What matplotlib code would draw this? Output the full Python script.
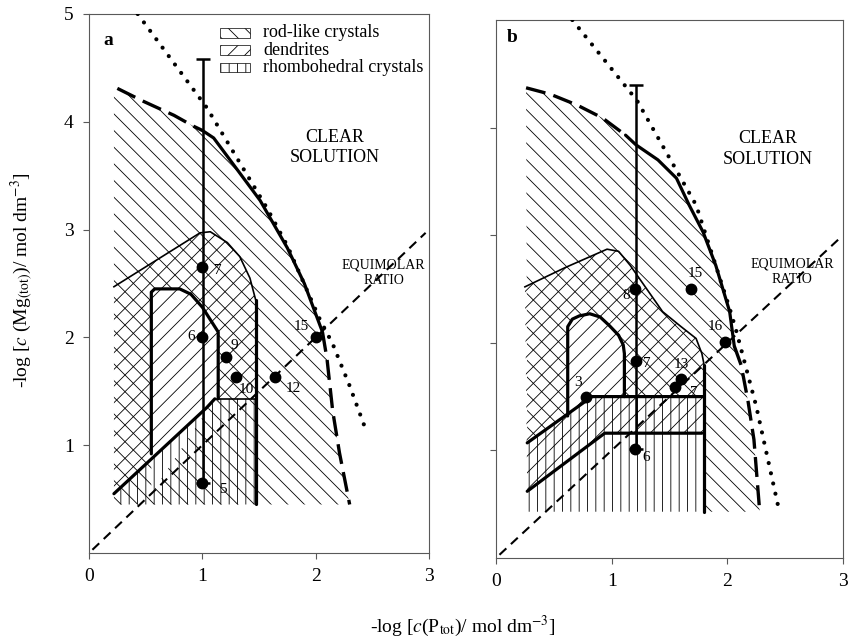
import matplotlib
matplotlib.use("Agg")
import matplotlib.pyplot as plt
from matplotlib.patches import Rectangle

plt.rcParams['font.family'] = ['Liberation Serif', 'DejaVu Serif']
plt.rcParams['mathtext.fontset'] = 'stix'
plt.rcParams['hatch.linewidth'] = 0.6

# ---------------- panel a ----------------
a_dot_x = [0.43, 1.04, 1.57, 1.75, 2.04, 2.15, 2.30, 2.44]
a_dot_y = [5.00, 4.13, 3.20, 2.85, 2.16, 1.94, 1.55, 1.15]

a_top_x = [0.25, 0.48, 0.75, 0.92, 1.00]
a_top_y = [4.31, 4.19, 4.06, 3.96, 3.92]
a_sol_x = [1.00, 1.10, 1.27, 1.51, 1.75, 1.90, 2.06]
a_sol_y = [3.92, 3.85, 3.61, 3.27, 2.83, 2.50, 2.05]
a_rgt_x = [2.06, 2.10, 2.15, 2.21, 2.30]
a_rgt_y = [2.05, 1.80, 1.32, 0.93, 0.45]

a_den_x = [0.22, 0.98, 1.07, 1.22, 1.33, 1.42, 1.47]
a_den_y = [2.47, 2.97, 2.98, 2.88, 2.75, 2.55, 2.35]
a_rho_x = [0.22, 1.04, 1.11, 1.47]
a_rho_y = [0.55, 1.35, 1.43, 1.43]
a_in_x = [0.55, 0.55, 0.58, 0.80, 0.90, 1.00, 1.14, 1.14]
a_in_y = [0.92, 2.42, 2.45, 2.45, 2.40, 2.28, 2.05, 1.43]
a_left = 0.22
a_bottom = 0.45

a_bar = [1.01, 0.65, 4.58]   # x, low, high

a_pt_x = [1.00, 1.00, 1.21, 1.30, 1.64, 2.00, 1.00]
a_pt_y = [2.65, 2.00, 1.82, 1.63, 1.63, 2.00, 0.65]
a_pt_lab = ['7', '6', '9', '10', '12', '15', '5']
a_lab_off = [(11, -2), (-8, 1), (6, 8), (7, -9), (13, -8), (-10, 8), (15, -5)]

# ---------------- panel b ----------------
b_dot_x = [0.66, 1.22, 1.73, 2.02, 2.08, 2.25, 2.45]
b_dot_y = [5.00, 4.25, 3.28, 2.32, 2.10, 1.41, 0.43]

b_top_x = [0.26, 0.47, 0.70, 0.92, 1.12]
b_top_y = [4.37, 4.31, 4.21, 4.09, 3.93]
b_sol_x = [1.12, 1.21, 1.40, 1.56, 1.67, 1.79, 1.90, 2.02, 2.06]
b_sol_y = [3.93, 3.84, 3.70, 3.53, 3.28, 3.03, 2.72, 2.29, 1.97]
b_rgt_x = [2.06, 2.12, 2.18, 2.23, 2.28]
b_rgt_y = [1.97, 1.79, 1.45, 1.10, 0.43]

b_den_x = [0.25, 0.60, 0.96, 1.06, 1.16, 1.44, 1.60, 1.73, 1.78, 1.80]
b_den_y = [2.52, 2.70, 2.87, 2.85, 2.72, 2.29, 2.15, 2.04, 1.90, 1.79]
b_up_x = [0.27, 0.83, 1.80]
b_up_y = [1.07, 1.50, 1.50]
b_lo_x = [0.27, 0.94, 1.78]
b_lo_y = [0.62, 1.16, 1.16]
b_in_x = [0.62, 0.62, 0.66, 0.72, 0.81, 0.90, 0.98, 1.06, 1.10, 1.11, 1.11]
b_in_y = [1.32, 2.15, 2.22, 2.25, 2.27, 2.24, 2.16, 2.07, 1.98, 1.90, 1.50]
b_right = 1.80
b_bottom = 0.43

b_bar = [1.21, 1.01, 4.40]

b_pt_x = [1.20, 1.69, 1.98, 1.21, 1.60, 1.55, 0.78, 1.20]
b_pt_y = [2.50, 2.50, 2.01, 1.83, 1.66, 1.59, 1.50, 1.01]
b_pt_lab = ['8', '15', '16', '7', '13', '7', '3', '6']
b_lab_off = [(-6, -5), (3, 11), (-7, 11), (8, -2), (0, 11), (13, -4), (-6, 10), (8, -6)]

equi = [0.03, 2.97]

# legend entries
leg_names = ['rod-like crystals', 'dendrites', 'rhombohedral crystals']
ROD, DEN, RHO = '\\\\', '//', '||'
leg_hatch = [ROD, DEN, RHO]


fig = plt.figure(figsize=(8.52, 6.42), dpi=100)
ax_a = fig.add_axes([89 / 852, 1 - 553 / 642, 340 / 852, 539 / 642])
ax_b = fig.add_axes([496 / 852, 1 - 558 / 642, 347 / 852, 538 / 642])

thick = dict(color='k', lw=2.3, solid_capstyle='round')
tdash = dict(color='k', lw=2.4, dashes=(6, 2.5))
dots = dict(color='k', lw=3, dashes=(0.01, 2.5), dash_capstyle='round')


def frame(ax):
    ax.set_xlim(0, 3)
    ax.set_ylim(0, 5)
    ax.set_xticks([0, 1, 2, 3])
    for s in ax.spines.values():
        s.set_linewidth(0.8)
        s.set_color('0.35')
    ax.tick_params(direction='out', length=4, width=0.8, color='0.35',
                   labelsize=14, pad=7)


def points(ax, xs, ys, labs, offs):
    ax.plot(xs, ys, 'o', color='k', ms=7.5, zorder=6)
    for x, y, t, o in zip(xs, ys, labs, offs):
        ax.annotate(t, (x, y), xytext=o, textcoords='offset points',
                    ha='center', va='center', fontsize=11, zorder=7)


def rng(ax, bar):
    ax.errorbar([bar[0]], [bar[1]], yerr=[[0], [bar[2] - bar[1]]], fmt='none',
                ecolor='k', elinewidth=1.8, capsize=5, capthick=1.8, zorder=5)


# ================= panel a =================
ax = ax_a
frame(ax)
ax.set_yticks([1, 2, 3, 4, 5])

rod_x = [a_left] + a_top_x + a_sol_x + a_rgt_x + [a_left]
rod_y = [a_top_y[0]] + a_top_y + a_sol_y + a_rgt_y + [a_bottom]
ax.fill(rod_x, rod_y, facecolor='none', edgecolor='k', hatch=ROD, lw=0, zorder=1)
ax.fill(a_in_x + [a_rho_x[2], a_in_x[0]], a_in_y + [a_rho_y[2], a_rho_x[0] + 0.33],
        facecolor='white', edgecolor='none', zorder=1.5)
den_x = a_den_x + [a_den_x[-1]] + a_rho_x[::-1]
den_y = a_den_y + [a_rho_y[-1]] + a_rho_y[::-1]
ax.fill(den_x, den_y, facecolor='none', edgecolor='k', hatch=DEN, lw=0, zorder=2)
rho_x = a_rho_x + [a_rho_x[-1], a_left]
rho_y = a_rho_y + [a_bottom, a_bottom]
ax.fill(rho_x, rho_y, facecolor='none', edgecolor='k', hatch=RHO, lw=0, zorder=2)

ax.plot(a_den_x, a_den_y, color='k', lw=1.2, zorder=3)
ax.plot([a_den_x[-1], a_den_x[-1]], [a_den_y[-1], a_bottom], **thick, zorder=3)
ax.plot(a_rho_x[:3], a_rho_y[:3], **thick, zorder=3)
ax.plot(a_rho_x[2:], a_rho_y[2:], color='k', lw=1.2, zorder=3)
ax.plot(a_in_x, a_in_y, **thick, zorder=3)

ax.plot(a_top_x, a_top_y, **tdash, zorder=3)
ax.plot(a_sol_x, a_sol_y, **thick, zorder=3)
ax.plot(a_rgt_x, a_rgt_y, **tdash, zorder=3)
ax.plot(a_dot_x, a_dot_y, **dots, zorder=3)
ax.plot(equi, equi, color='k', lw=1.5, dashes=(4.5, 3), zorder=3)

rng(ax, a_bar)
points(ax, a_pt_x, a_pt_y, a_pt_lab, a_lab_off)

ax.text(0.17, 4.75, 'a', fontsize=14, fontweight='bold', ha='center', va='center')
ax.text(2.17, 3.76, 'CLEAR\nSOLUTION', fontsize=13, ha='center', va='center',
        linespacing=1.25)
ax.text(2.6, 2.6, 'EQUIMOLAR\nRATIO', fontsize=10, ha='center', va='center',
        linespacing=1.3)

# legend
for i, (name, h) in enumerate(zip(leg_names, leg_hatch)):
    yy = 0.965 - i * 0.032
    ax.add_patch(Rectangle((0.385, yy - 0.009), 0.088, 0.018, transform=ax.transAxes,
                           facecolor='none', edgecolor='k', hatch=h, lw=0.5))
    ax.text(0.512, yy, name, transform=ax.transAxes, fontsize=13, va='center')

# ================= panel b =================
ax = ax_b
frame(ax)
ax.set_yticks([1, 2, 3, 4])
ax.set_yticklabels([])

rod_x = [b_top_x[0]] + b_top_x + b_sol_x + b_rgt_x + [b_right] + b_up_x[::-1]
rod_y = [b_top_y[0]] + b_top_y + b_sol_y + b_rgt_y + [b_bottom] + b_up_y[::-1]
ax.fill(rod_x, rod_y, facecolor='none', edgecolor='k', hatch=ROD, lw=0, zorder=1)
ax.fill(b_in_x, b_in_y, facecolor='white', edgecolor='none', zorder=1.5)
den_x = b_den_x + [b_right] + b_lo_x[::-1]
den_y = b_den_y + [b_lo_y[-1]] + b_lo_y[::-1]
ax.fill(den_x, den_y, facecolor='none', edgecolor='k', hatch=DEN, lw=0, zorder=2)
rho_x = b_up_x + [b_right, b_up_x[0]]
rho_y = b_up_y + [b_bottom, b_bottom]
ax.fill(rho_x, rho_y, facecolor='none', edgecolor='k', hatch=RHO, lw=0, zorder=2)

ax.plot(b_den_x, b_den_y, color='k', lw=1.2, zorder=3)
ax.plot([b_right, b_right], [b_den_y[-1], b_bottom], **thick, zorder=3)
ax.plot(b_up_x, b_up_y, **thick, zorder=3)
ax.plot(b_lo_x, b_lo_y, **thick, zorder=3)
ax.plot(b_in_x, b_in_y, **thick, zorder=3)

ax.plot(b_top_x, b_top_y, **tdash, zorder=3)
ax.plot(b_sol_x, b_sol_y, **thick, zorder=3)
ax.plot(b_rgt_x, b_rgt_y, **tdash, zorder=3)
ax.plot(b_dot_x, b_dot_y, **dots, zorder=3)
ax.plot(equi, equi, color='k', lw=1.5, dashes=(4.5, 3), zorder=3)

rng(ax, b_bar)
points(ax, b_pt_x, b_pt_y, b_pt_lab, b_lab_off)

ax.text(0.14, 4.84, 'b', fontsize=14, fontweight='bold', ha='center', va='center')
ax.text(2.35, 3.8, 'CLEAR\nSOLUTION', fontsize=13, ha='center', va='center',
        linespacing=1.25)
ax.text(2.56, 2.66, 'EQUIMOLAR\nRATIO', fontsize=10, ha='center', va='center',
        linespacing=1.3)

fig.text(463 / 852, 1 - 626 / 642, r'-log [$c$(P$_{\mathrm{tot}}$)/ mol dm$^{-3}$]',
         fontsize=14, ha='center', va='center')
fig.text(22 / 852, 1 - 280 / 642, r'-log [$c$ (Mg$_{\mathrm{(tot)}}$)/ mol dm$^{-3}$]',
         fontsize=14, ha='center', va='center', rotation=90)

fig.savefig('out.png', dpi=100)
